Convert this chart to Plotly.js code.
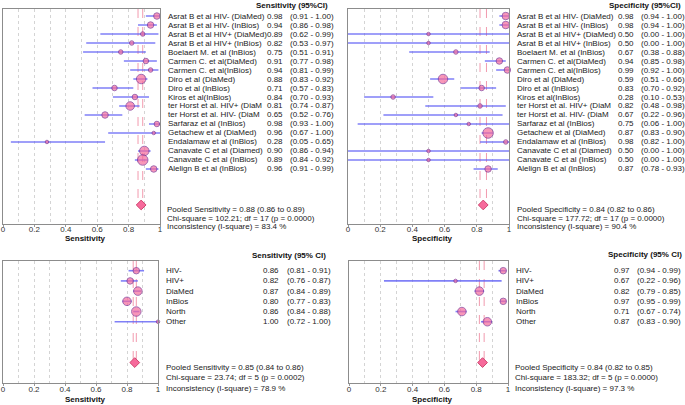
<!DOCTYPE html>
<html>
<head>
<meta charset="utf-8">
<script src="https://cdn.plot.ly/plotly-3.0.1.min.js"></script>
<style>html,body{margin:0;padding:0;background:#fff;}#chart{width:685px;height:405px;}</style>
</head>
<body>
<div id="chart"></div>
<script>
// ---------------- DATA ----------------
const studies = [
  "Asrat B et al HIV- (DiaMed)", "Asrat B et al HIV- (InBios)", "Asrat B et al HIV+ (DiaMed)",
  "Asrat B et al HIV+ (InBios)", "Boelaert M. et al (InBios)", "Carmen C. et al(DiaMed)",
  "Carmen C. et al(InBios)", "Diro et al (DiaMed)", "Diro et al (InBios)", "Kiros et al(InBios)",
  "ter Horst et al. HIV+ (DiaM", "ter Horst et al. HIV- (DiaM", "Sarfaraz et al (InBios)",
  "Getachew et al (DiaMed)", "Endalamaw et al (InBios)", "Canavate C et al (Diamed)",
  "Canavate C et al (InBios)", "Alelign B et al (InBios)"
];
const sensVal = [0.98, 0.94, 0.89, 0.82, 0.75, 0.91, 0.94, 0.88, 0.71, 0.84, 0.81, 0.65, 0.98, 0.96, 0.28, 0.90, 0.89, 0.96];
const sensLo  = [0.91, 0.86, 0.62, 0.53, 0.51, 0.77, 0.81, 0.83, 0.57, 0.70, 0.74, 0.52, 0.93, 0.67, 0.05, 0.86, 0.84, 0.91];
const sensHi  = [1.00, 0.98, 0.99, 0.97, 0.91, 0.98, 0.99, 0.92, 0.83, 0.93, 0.87, 0.76, 1.00, 1.00, 0.65, 0.94, 0.92, 0.99];
const sensWeight = [4, 4, 2, 2, 2, 3, 2, 7, 3, 3, 6, 4, 3, 1, 1, 7, 8, 4];

const specVal = [0.98, 0.98, 0.50, 0.50, 0.67, 0.94, 0.99, 0.59, 0.83, 0.28, 0.82, 0.67, 0.75, 0.87, 0.98, 0.50, 0.50, 0.87];
const specLo  = [0.94, 0.94, 0.00, 0.00, 0.38, 0.85, 0.92, 0.51, 0.70, 0.10, 0.48, 0.22, 0.06, 0.83, 0.82, 0.00, 0.00, 0.78];
const specHi  = [1.00, 1.00, 1.00, 1.00, 0.88, 0.98, 1.00, 0.66, 0.92, 0.53, 0.98, 0.96, 1.00, 0.90, 1.00, 1.00, 1.00, 0.93];
const specWeight = [5, 5, 1, 1, 2, 4, 4, 7, 3, 2, 2, 1, 1, 8, 2, 1, 1, 4];

const groups = ["HIV-", "HIV+", "DiaMed", "InBios", "North", "Other"];
const gSensVal = [0.86, 0.82, 0.87, 0.80, 0.86, 1.00];
const gSensLo  = [0.81, 0.76, 0.84, 0.77, 0.84, 0.72];
const gSensHi  = [0.91, 0.87, 0.89, 0.83, 0.88, 1.00];
const gSensWeight = [4, 4, 6, 6, 7, 1];
const gSpecVal = [0.97, 0.67, 0.82, 0.97, 0.71, 0.87];
const gSpecLo  = [0.94, 0.22, 0.79, 0.95, 0.67, 0.83];
const gSpecHi  = [0.99, 0.96, 0.85, 0.99, 0.74, 0.90];
const gSpecWeight = [4, 1, 6, 4, 6, 6];

const pooledLabels = ["Pooled Sensitivity", "Pooled Specificity", "Pooled Sensitivity", "Pooled Specificity"];
const pooledVal = [0.88, 0.84, 0.85, 0.84];
const pooledLo  = [0.86, 0.82, 0.84, 0.82];
const pooledHi  = [0.89, 0.86, 0.86, 0.85];
const chiSquare = ["102.21", "177.72", "23.74", "183.32"];
const chiDf     = [17, 17, 5, 5];
const chiP      = ["0.0000", "0.0000", "0.0002", "0.0000"];
const iSquare   = ["83.4", "90.4", "78.9", "97.3"];
const headers   = ["Sensitivity (95%CI)", "Specificity (95%CI)", "Sensitivity (95% CI)", "Specificity (95% CI)"];
const axisTitles = ["Sensitivity", "Specificity", "Sensitivity", "Specificity"];

// ---------------- LAYOUT HELPERS ----------------
const W = 685, H = 405;
const px = p => p / W;
const py = p => 1 - p / H;
const FONT = "Liberation Sans, Arial, sans-serif";
const f2 = v => v.toFixed(2);

const panels = [
  {labels: studies, val: sensVal, lo: sensLo, hi: sensHi, w: sensWeight,
   xdom: [3, 160], ydom: [9, 223.5], yr: [23.06, -0.78], dRow: 21,
   labelX: 168, valX: 267, ciX: 290, headR: 328, headY: 5,
   statX: 167, statY: [209, 218, 227], titleX: 85, titleY: 238},
  {labels: studies, val: specVal, lo: specLo, hi: specHi, w: specWeight,
   xdom: [348, 509], ydom: [9, 223.5], yr: [23.06, -0.78], dRow: 21,
   labelX: 517, valX: 618, ciX: 641, headR: 681, headY: 5,
   statX: 517, statY: [209, 218, 227], titleX: 432, titleY: 238},
  {labels: groups, val: gSensVal, lo: gSensLo, hi: gSensHi, w: gSensWeight,
   xdom: [3, 158], ydom: [261, 383], yr: [11.0, -0.95], dRow: 9,
   labelX: 166, valX: 263, ciX: 287, headR: 326, headY: 255,
   statX: 166, statY: [367, 377.5, 388], titleX: 85, titleY: 399},
  {labels: groups, val: gSpecVal, lo: gSpecLo, hi: gSpecHi, w: gSpecWeight,
   xdom: [349, 508], ydom: [261, 383], yr: [11.0, -0.95], dRow: 9,
   labelX: 516, valX: 614, ciX: 637, headR: 682, headY: 254,
   statX: 515, statY: [367, 377.5, 388], titleX: 432, titleY: 399}
];

const PINK = "#f66a9b", PURPLE = "#7a2e92", BLUE = "rgba(96,96,245,0.8)", REDDASH = "#f29aae";
const traces = [];
const annotations = [];
const layout = {
  width: W, height: H, margin: {l: 0, r: 0, t: 0, b: 0},
  paper_bgcolor: "#ffffff", plot_bgcolor: "#ffffff", showlegend: false,
  font: {family: FONT, size: 8, color: "#222"}
};

panels.forEach((p, k) => {
  const n = k + 1;
  const xa = n === 1 ? "x" : "x" + n;
  const ya = n === 1 ? "y" : "y" + n;
  const xkey = n === 1 ? "xaxis" : "xaxis" + n;
  const ykey = n === 1 ? "yaxis" : "yaxis" + n;
  layout[xkey] = {
    domain: [px(p.xdom[0]), px(p.xdom[1])], anchor: ya, range: [0, 1],
    tick0: 0, dtick: 0.2, ticks: "outside", ticklen: 2, tickcolor: "#999",
    ticklabelstandoff: -4,
    tickfont: {family: FONT, size: 8, color: "#333"},
    showline: true, mirror: true, linecolor: "#8c8c8c", linewidth: 1,
    showgrid: true, gridcolor: "#d4d4d4", griddash: "dot", gridwidth: 1,
    minor: {dtick: 0.1, tick0: 0, showgrid: true, gridcolor: "#d4d4d4", griddash: "dot", ticklen: 0},
    zeroline: false, fixedrange: true
  };
  layout[ykey] = {
    domain: [py(p.ydom[1]), py(p.ydom[0])], anchor: xa, range: p.yr,
    showline: true, mirror: true, linecolor: "#8c8c8c", linewidth: 1,
    showgrid: false, zeroline: false, showticklabels: false, ticks: "", fixedrange: true
  };
  const rows = p.val.map((_, i) => i);
  // pooled CI dashed lines
  [pooledLo[k], pooledHi[k]].forEach(v => {
    traces.push({type: "scatter", mode: "lines", xaxis: xa, yaxis: ya,
      x: [v, v], y: [p.yr[1], p.dRow], line: {color: REDDASH, width: 1, dash: "dash"},
      hoverinfo: "skip"});
  });
  // study CIs + point estimates
  traces.push({
    type: "scatter", mode: "markers", xaxis: xa, yaxis: ya, cliponaxis: false,
    x: p.val, y: rows,
    error_x: {type: "data", symmetric: false,
      array: p.val.map((v, i) => p.hi[i] - v),
      arrayminus: p.val.map((v, i) => v - p.lo[i]),
      color: BLUE, thickness: 1.6, width: 0},
    marker: {size: p.w.map(w => 2.5 + w), color: PINK, line: {color: PURPLE, width: 1}}
  });
  // pooled diamond
  traces.push({type: "scatter", mode: "markers", xaxis: xa, yaxis: ya, cliponaxis: false,
    x: [pooledVal[k]], y: [p.dRow],
    marker: {symbol: "diamond", size: 7.5, color: PINK, line: {color: "#d0456f", width: 1}}});

  // row texts
  p.labels.forEach((lab, i) => {
    const base = {xref: "paper", yref: ya, y: i, yanchor: "middle", xanchor: "left",
      showarrow: false, font: {family: FONT, size: 8, color: "#222"}};
    annotations.push(Object.assign({}, base, {x: px(p.labelX - 2), text: lab}));
    annotations.push(Object.assign({}, base, {x: px(p.valX - 2), text: f2(p.val[i])}));
    annotations.push(Object.assign({}, base, {x: px(p.ciX - 2), text: "(" + f2(p.lo[i]) + " - " + f2(p.hi[i]) + ")"}));
  });
  // header
  annotations.push({xref: "paper", yref: "paper", x: px(p.headR + 2), y: py(p.headY), xanchor: "right", yanchor: "middle",
    showarrow: false, text: "<b>" + headers[k] + "</b>", font: {family: FONT, size: 8, color: "#111"}});
  // stats
  const stats = [
    pooledLabels[k] + " = " + f2(pooledVal[k]) + " (" + f2(pooledLo[k]) + " to " + f2(pooledHi[k]) + ")",
    "Chi-square = " + chiSquare[k] + "; df = " + chiDf[k] + " (p = " + chiP[k] + ")",
    "Inconsistency (I-square) = " + iSquare[k] + " %"
  ];
  stats.forEach((s, j) => {
    annotations.push({xref: "paper", yref: "paper", x: px(p.statX - 2), y: py(p.statY[j]), xanchor: "left", yanchor: "middle",
      showarrow: false, text: s, font: {family: FONT, size: 8, color: "#222"}});
  });
  // axis title
  annotations.push({xref: "paper", yref: "paper", x: px(p.titleX), y: py(p.titleY), xanchor: "center", yanchor: "middle",
    showarrow: false, text: "<b>" + axisTitles[k] + "</b>", font: {family: FONT, size: 8, color: "#111"}});
});

layout.annotations = annotations;
Plotly.newPlot("chart", traces, layout, {staticPlot: true, displayModeBar: false});
</script>
</body>
</html>
